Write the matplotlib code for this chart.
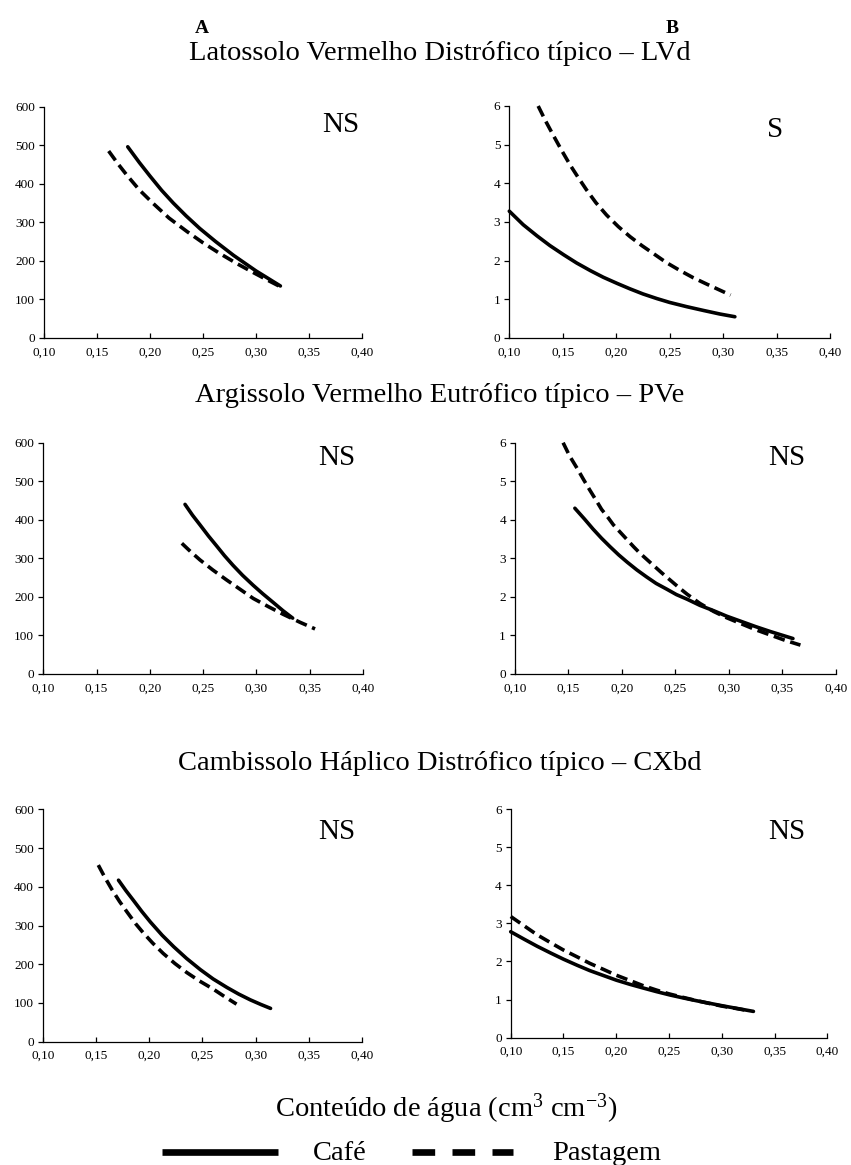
import matplotlib
matplotlib.use('Agg')
import matplotlib.pyplot as plt
from matplotlib.lines import Line2D
import numpy as np

plt.rcParams['font.family'] = ['Liberation Serif', 'DejaVu Serif']
plt.rcParams['mathtext.fontset'] = 'custom'
plt.rcParams['mathtext.rm'] = 'Liberation Serif'
plt.rcParams['mathtext.it'] = 'Liberation Serif:italic'

# ---- data ----
xticks = [0.10, 0.15, 0.20, 0.25, 0.30, 0.35, 0.40]

# Latossolo Vermelho Distrofico tipico - LVd
lvd_a_cafe_x = [0.179, 0.190, 0.200, 0.211, 0.222, 0.234, 0.247, 0.262, 0.279, 0.300, 0.323]
lvd_a_cafe_y = [496, 455, 420, 383, 350, 317, 284, 250, 214, 174, 135]
lvd_a_past_x = [0.161, 0.170, 0.178, 0.190, 0.203, 0.218, 0.235, 0.250, 0.266, 0.282, 0.298, 0.311, 0.323]
lvd_a_past_y = [485, 451, 423, 384, 349, 311, 276, 247, 219, 193, 169, 150, 133]
lvd_b_cafe_x = [0.100, 0.113, 0.126, 0.138, 0.151, 0.163, 0.176, 0.188, 0.201,
                0.213, 0.225, 0.238, 0.250, 0.266, 0.282, 0.297, 0.311]
lvd_b_cafe_y = [3.28, 2.93, 2.64, 2.39, 2.15, 1.94, 1.74, 1.57, 1.41,
                1.27, 1.14, 1.02, 0.92, 0.81, 0.71, 0.62, 0.55]
lvd_b_past_x = [0.127, 0.134, 0.141, 0.149, 0.157, 0.164, 0.172, 0.181, 0.191, 0.202,
                0.213, 0.224, 0.235, 0.247, 0.260, 0.272, 0.285, 0.296, 0.307]
lvd_b_past_y = [6.00, 5.61, 5.25, 4.85, 4.47, 4.17, 3.84, 3.50, 3.18, 2.88,
                2.62, 2.39, 2.18, 1.95, 1.74, 1.56, 1.39, 1.25, 1.11]

# Argissolo Vermelho Eutrofico tipico - PVe
pve_a_cafe_x = [0.233, 0.240, 0.247, 0.255, 0.263, 0.270, 0.278, 0.287, 0.297, 0.306, 0.316, 0.325, 0.334]
pve_a_cafe_y = [440, 412, 387, 358, 331, 307, 282, 256, 230, 208, 185, 164, 145]
pve_a_past_x = [0.230, 0.238, 0.247, 0.259, 0.272, 0.284, 0.297, 0.311, 0.325, 0.341, 0.355]
pve_a_past_y = [339, 318, 296, 270, 244, 221, 196, 175, 155, 134, 117]
pve_b_cafe_x = [0.156, 0.165, 0.173, 0.181, 0.189, 0.197, 0.205, 0.214, 0.223, 0.232, 0.242,
                0.251, 0.261, 0.273, 0.286, 0.298, 0.310, 0.325, 0.339, 0.360]
pve_b_cafe_y = [4.30, 4.02, 3.76, 3.52, 3.30, 3.09, 2.90, 2.70, 2.52, 2.35, 2.20,
                2.06, 1.94, 1.78, 1.64, 1.50, 1.38, 1.23, 1.10, 0.92]
pve_b_past_x = [0.145, 0.151, 0.158, 0.164, 0.170, 0.176, 0.181, 0.187, 0.192, 0.199, 0.205,
                0.211, 0.217, 0.223, 0.229, 0.237, 0.245, 0.253, 0.261, 0.273, 0.286,
                0.298, 0.311, 0.325, 0.339, 0.353, 0.367]
pve_b_past_y = [6.00, 5.66, 5.34, 5.05, 4.77, 4.50, 4.27, 4.06, 3.87, 3.66, 3.48,
                3.30, 3.13, 2.98, 2.83, 2.63, 2.44, 2.25, 2.07, 1.83, 1.62,
                1.46, 1.31, 1.15, 1.01, 0.87, 0.75]

# Cambissolo Haplico Distrofico tipico - CXbd
cxbd_a_cafe_x = [0.171, 0.178, 0.185, 0.193, 0.201, 0.212, 0.223, 0.235,
                 0.248, 0.260, 0.273, 0.284, 0.295, 0.305, 0.314]
cxbd_a_cafe_y = [417, 390, 365, 336, 309, 275, 245, 215, 186, 162, 140, 123, 108, 96, 86]
cxbd_a_past_x = [0.152, 0.158, 0.165, 0.172, 0.179, 0.187, 0.194, 0.203,
                 0.213, 0.224, 0.235, 0.247, 0.260, 0.271, 0.282]
cxbd_a_past_y = [456, 425, 392, 362, 335, 305, 282, 255, 228, 202, 179, 157, 136, 116, 97]
cxbd_b_cafe_x = [0.100, 0.113, 0.125, 0.138, 0.150, 0.163, 0.175, 0.188, 0.200, 0.213, 0.226,
                 0.238, 0.251, 0.264, 0.276, 0.289, 0.302, 0.316, 0.330]
cxbd_b_cafe_y = [2.78, 2.58, 2.40, 2.22, 2.06, 1.90, 1.76, 1.63, 1.51, 1.40, 1.30,
                 1.21, 1.12, 1.04, 0.97, 0.90, 0.83, 0.76, 0.69]
cxbd_b_past_x = [0.100, 0.113, 0.125, 0.138, 0.150, 0.163, 0.175, 0.188, 0.200, 0.213,
                 0.225, 0.238, 0.250, 0.263, 0.275, 0.288, 0.300, 0.313, 0.325]
cxbd_b_past_y = [3.18, 2.93, 2.70, 2.49, 2.30, 2.12, 1.95, 1.79, 1.64, 1.50,
                 1.37, 1.25, 1.15, 1.06, 0.98, 0.90, 0.83, 0.77, 0.71]

soil_titles = ['Latossolo Vermelho Distrófico típico – LVd',
               'Argissolo Vermelho Eutrófico típico – PVe',
               'Cambissolo Háplico Distrófico típico – CXbd']
signif = ['NS', 'S', 'NS', 'NS', 'NS', 'NS']

W, H = 851, 1165
fig = plt.figure(figsize=(W / 100, H / 100), dpi=100)


def px_axes(x0, y0, x1, y1):
    return fig.add_axes([x0 / W, 1 - y1 / H, (x1 - x0) / W, (y1 - y0) / H])


def style(ax, ymax, ystep):
    ax.set_xlim(0.10, 0.40)
    ax.set_ylim(0, ymax)
    ax.set_xticks(xticks)
    ax.set_xticklabels([f'{v:.2f}'.replace('.', ',') for v in xticks])
    ax.set_yticks(np.arange(0, ymax + ystep / 2, ystep))
    for s in ['top', 'right']:
        ax.spines[s].set_visible(False)
    for s in ['left', 'bottom']:
        ax.spines[s].set_linewidth(0.9)
    ax.tick_params(axis='x', direction='in', length=3.5, width=0.9, labelsize=9.5, pad=6)
    ax.tick_params(axis='y', direction='out', length=3.5, width=0.9, labelsize=9.5, pad=3)


def curves(ax, cx, cy, px, py):
    ax.plot(cx, cy, color='black', lw=2.6, solid_capstyle='round',
            solid_joinstyle='round', clip_on=False)
    ax.plot(px, py, color='black', lw=2.6, dashes=(3.2, 1.6), dash_capstyle='butt',
            dash_joinstyle='round', clip_on=False)


rects = [(44, 106.7, 362, 338), (509.3, 106, 830, 338),
         (43.3, 442.7, 363, 674), (515, 442.7, 835.7, 674),
         (43, 809.3, 362, 1041.7), (510.7, 809, 827.3, 1037.7)]
data = [(lvd_a_cafe_x, lvd_a_cafe_y, lvd_a_past_x, lvd_a_past_y),
        (lvd_b_cafe_x, lvd_b_cafe_y, lvd_b_past_x, lvd_b_past_y),
        (pve_a_cafe_x, pve_a_cafe_y, pve_a_past_x, pve_a_past_y),
        (pve_b_cafe_x, pve_b_cafe_y, pve_b_past_x, pve_b_past_y),
        (cxbd_a_cafe_x, cxbd_a_cafe_y, cxbd_a_past_x, cxbd_a_past_y),
        (cxbd_b_cafe_x, cxbd_b_cafe_y, cxbd_b_past_x, cxbd_b_past_y)]
sig_pos = [(0.934, 0.92), (0.83, 0.897), (0.917, 0.933),
           (0.847, 0.933), (0.92, 0.904), (0.872, 0.90)]

for i, r in enumerate(rects):
    ax = px_axes(*r)
    if i % 2 == 0:
        style(ax, 600, 100)
    else:
        style(ax, 6, 1)
    curves(ax, *data[i])
    ax.text(sig_pos[i][0], sig_pos[i][1], signif[i], transform=ax.transAxes,
            ha='center', va='center', fontsize=21)

# column letters and soil titles
fig.text(202 / W, 1 - 33 / H, 'A', ha='center', va='baseline', fontsize=14, fontweight='bold')
fig.text(672 / W, 1 - 33 / H, 'B', ha='center', va='baseline', fontsize=14, fontweight='bold')
for t, yb in zip(soil_titles, [60, 402, 770]):
    fig.text(440 / W, 1 - yb / H, t, ha='center', va='baseline', fontsize=20.5)

# x label
fig.text(275 / W, 1 - 1117 / H, r'Conteúdo de água (cm$^{\rm 3}$ cm$^{\rm {-}3}$)',
         ha='left', va='baseline', fontsize=20.5)

# legend
ly = 1 - 1152 / H
fig.add_artist(Line2D([162 / W, 278 / W], [ly, ly], transform=fig.transFigure,
                      color='black', lw=4.8, solid_capstyle='butt'))
fig.text(313 / W, 1 - 1160 / H, 'Café', ha='left', va='baseline', fontsize=20.5)
fig.add_artist(Line2D([412 / W, 513 / W], [ly, ly], transform=fig.transFigure,
                      color='black', lw=4.8, dashes=(3.4, 2.6), dash_capstyle='butt'))
fig.text(552 / W, 1 - 1160 / H, 'Pastagem', ha='left', va='baseline', fontsize=20.5)

fig.savefig('out.png', dpi=100)
